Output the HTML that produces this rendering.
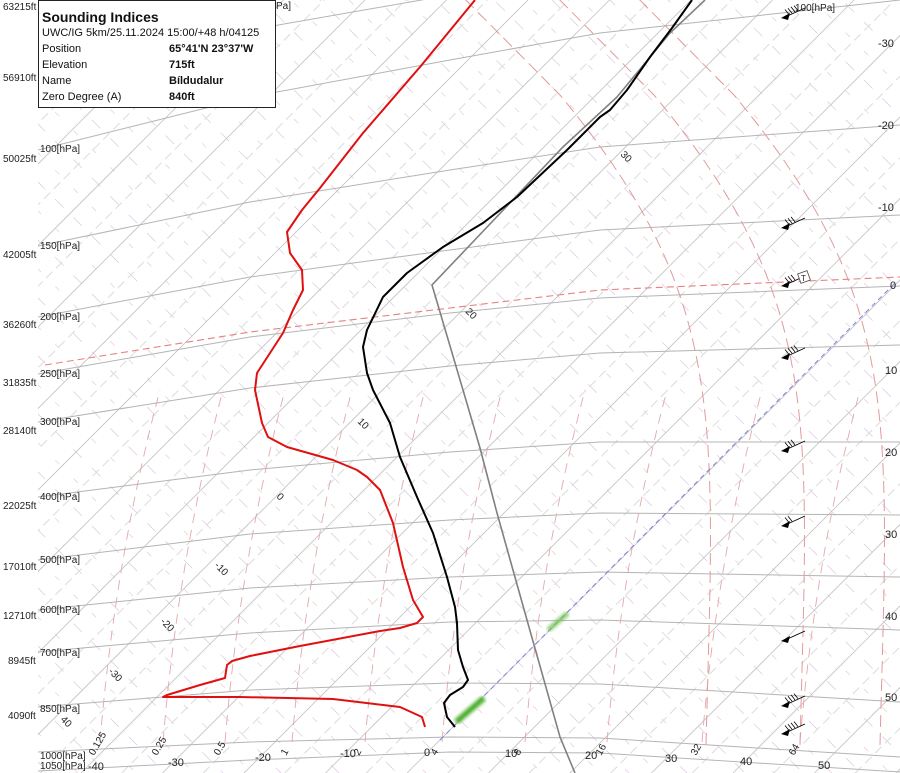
<!DOCTYPE html>
<html><head><meta charset="utf-8"><style>
html,body{margin:0;padding:0;background:#fff;overflow:hidden;}
svg{display:block;font-family:"Liberation Sans",sans-serif;}
.box{position:absolute;left:38px;top:0;width:236px;height:106px;border:1px solid #222;background:#fff;font-family:"Liberation Sans","DejaVu Sans",sans-serif;font-size:11px;color:#111;line-height:13px;}
.box .t{font-weight:bold;font-size:14px;position:absolute;left:3px;top:8px;line-height:16px;}
.box .r{position:absolute;left:3px;}
.box .v{position:absolute;left:130px;font-weight:bold;}
</style></head><body>
<div style="position:relative;width:900px;height:773px;overflow:hidden">
<svg width="900" height="773" viewBox="0 0 900 773">
<defs><clipPath id="c"><rect x="38" y="0" width="862" height="773"/></clipPath>
<filter id="bl"><feGaussianBlur stdDeviation="1.5"/></filter></defs>
<g clip-path="url(#c)"><g id="dyn"></g></g>
</svg>
<div class="box">
<div class="t">Sounding Indices</div>
<div class="r" style="top:26px">UWC/IG 5km/25.11.2024 15:00/+48 h/04125</div>
<div class="r" style="top:42px">Position</div><div class="v" style="top:42px">65°41'N 23°37'W</div>
<div class="r" style="top:58px">Elevation</div><div class="v" style="top:58px">715ft</div>
<div class="r" style="top:74px">Name</div><div class="v" style="top:74px">Bíldudalur</div>
<div class="r" style="top:90px">Zero Degree (A)</div><div class="v" style="top:90px">840ft</div>
</div>
</div>
<script>
var NS="http://www.w3.org/2000/svg",g=document.getElementById("dyn"),svg=document.querySelector("svg");
function el(t,a,p){var e=document.createElementNS(NS,t);for(var k in a)e.setAttribute(k,a[k]);(p||g).appendChild(e);return e;}
function txt(x,y,s,a,p){a=a||{};a.x=x;a.y=y;if(!a["font-size"])a["font-size"]=10;if(!a.fill)a.fill="#222";var e=el("text",a,p);e.textContent=s;return e;}
for(var c=-900;c<900;c+=58){el("line",{x1:0,y1:c,x2:900,y2:c+900,stroke:"#e2cdea","stroke-width":0.8,"stroke-dasharray":"12 14"});}
for(var c=-871;c<900;c+=58){el("line",{x1:0,y1:c,x2:900,y2:c+900,stroke:"#ecd2d2","stroke-width":0.8,"stroke-dasharray":"6 20"});}
for(var T=-160;T<=60;T+=5){var x0=428+8.15*T,cc=x0+752;
 if(T%10==0)el("line",{x1:cc-773,y1:773,x2:cc,y2:0,stroke:"#c2c2c2","stroke-width":0.8});
 else el("line",{x1:cc-773,y1:773,x2:cc,y2:0,stroke:"#dedede","stroke-width":1.1,"stroke-dasharray":"9 5"});}
var xs=[38,250,450,600,900];
var P=[[78,30,-5,-30,-60],[150,97,60,33,0],[246,202,170,147,125],[317,277,250,230,215],[374,337,313,298,286],[422,388,366,353,345],[497,470,452,442,442],[560,534,520,513,515],[610,588,577,572,577],[652,633,622,620,630],[707,690,683,684,702],[752,742,737,738,757],[771,760,752,753,772]];
P.forEach(function(r){var d="M"+xs[0]+","+r[0];for(var i=1;i<5;i++)d+=" L"+xs[i]+","+r[i];el("path",{d:d,stroke:"#b4b4b4","stroke-width":1,fill:"none"});});
var mr=[["0.125",100],["0.25",163],["0.5",225],["1",292],["2",365],["4",442],["8",525],["16",607],["32",702],["64",800]];
mr.forEach(function(m){var xb=m[1];el("path",{d:"M"+xb+",742 Q"+(xb+15)+",560 "+(xb+60)+",390",stroke:"#e4a8a8","stroke-width":0.9,fill:"none","stroke-dasharray":"10 7"});
 txt(xb-6,756,m[0],{transform:"rotate(-60 "+(xb-6)+" 756)","font-size":10});});
[[706],[800],[880]].forEach(function(m){var xb=m[0];
 el("path",{d:"M"+xb+",745 C"+(xb+8)+",420 "+(xb+24)+",300 "+(xb-146)+",95 L"+(xb-260)+",-20",stroke:"#e29a9a","stroke-width":1,fill:"none","stroke-dasharray":"12 6"});});
el("path",{d:"M45,365 L250,332 L600,290 L900,277",stroke:"#e88080","stroke-width":1.1,fill:"none","stroke-dasharray":"7 4"});
el("line",{x1:440,y1:740,x2:895,y2:283,stroke:"#8080e0","stroke-width":1,"stroke-dasharray":"5 4"});
el("line",{x1:456,y1:722,x2:484,y2:698,stroke:"#50b030","stroke-width":6,filter:"url(#bl)"});
el("line",{x1:548,y1:630,x2:568,y2:613,stroke:"#70c050","stroke-width":5,filter:"url(#bl)",opacity:0.8});
el("path",{d:"M575,773 L560,737 L527,620 L497,513 L480,448 L463,390 L432,285 L470,245 L563,147 L617,97 L670,33 L705,0",stroke:"#808080","stroke-width":1.6,fill:"none"});
el("path",{d:"M475,0 L420,67 L363,133 L320,188 L302,210 L287,232 L290,253 L302,270 L303,290 L293,310 L283,333 L270,353 L257,373 L255,390 L262,423 L268,437 L287,447 L333,460 L357,470 L367,477 L380,490 L393,523 L403,567 L413,600 L423,617 L417,623 L400,628 L380,631 L300,646 L250,656 L232,661 L227,665 L225,678 L200,685 L167,695 L163,697 L240,697 L333,699 L400,707 L422,717 L425,727",stroke:"#e01010","stroke-width":2,fill:"none","stroke-linejoin":"round"});
el("path",{d:"M692,0 L672,28 L650,57 L627,90 L610,110 L600,117 L567,150 L517,197 L483,223 L443,247 L407,273 L383,297 L367,330 L363,347 L367,373 L373,390 L390,423 L400,457 L417,497 L433,533 L447,577 L455,607 L457,623 L458,650 L463,667 L468,680 L463,687 L450,695 L444,703 L447,717 L455,727",stroke:"#000","stroke-width":2,fill:"none","stroke-linejoin":"round"});
[[785,12,4],[785,222,3],[785,280,3],[785,352,4],[785,445,3],[785,520,2],[785,635,0],[785,700,4],[785,728,4]].forEach(function(b){var x=b[0],y=b[1];
 el("line",{x1:x-2,y1:y+6,x2:x+20,y2:y-4,stroke:"#000","stroke-width":0.9});
 el("polygon",{points:(x-4)+","+(y+6)+" "+(x+5)+","+(y+1)+" "+(x+3)+","+(y+8),fill:"#000"});
 for(var i=0;i<b[2];i++){var tx=x+4+i*3,ty=y+2.5-i*1.3;el("line",{x1:tx,y1:ty,x2:tx-4,y2:ty-5,stroke:"#000","stroke-width":0.8});}});
el("rect",{x:799,y:272,width:10,height:10,fill:"#fff",stroke:"#444","stroke-width":0.8,transform:"rotate(-20 804 277)"});
txt(801,281,"T",{"font-size":8});
txt(795,11,"100[hPa]",{"font-size":10});
[["30",620,155],["20",465,312],["10",357,422],["0",276,497],["-10",214,566],["-20",160,622],["-30",108,672],["40",60,720]].forEach(function(l){txt(l[1],l[2],l[0],{transform:"rotate(45 "+l[1]+" "+l[2]+")","font-size":10});});
var ft=[["63215ft",6],["56910ft",77],["50025ft",158],["42005ft",254],["36260ft",324],["31835ft",382],["28140ft",430],["22025ft",505],["17010ft",566],["12710ft",615],["8945ft",660],["4090ft",715]];
ft.forEach(function(f){txt(f[0]=="8945ft"||f[0]=="4090ft"?8:3,f[1]+4,f[0],{"font-size":10},svg);});
[["100",152],["150",249],["200",320],["250",377],["300",425],["400",500],["500",563],["600",613],["700",656],["850",712],["1000",759],["1050",769]].forEach(function(p){txt(40,p[1],p[0]+"[hPa]",{"font-size":10},svg);});
[["-40",88,770],["-30",168,766],["-20",255,761],["-10",340,757],["0",424,756],["10",505,757],["20",585,759],["30",665,762],["40",740,765],["50",818,769]].forEach(function(t){txt(t[1],t[2],t[0],{"font-size":11},svg);});
[["-30",878,47],["-20",878,129],["-10",878,211],["0",890,289],["10",885,374],["20",885,456],["30",885,538],["40",885,620],["50",885,701]].forEach(function(t){txt(t[1],t[2],t[0],{"font-size":11},svg);});
txt(276,9,"Pa]",{"font-size":10},svg);
</script>
</body></html>
